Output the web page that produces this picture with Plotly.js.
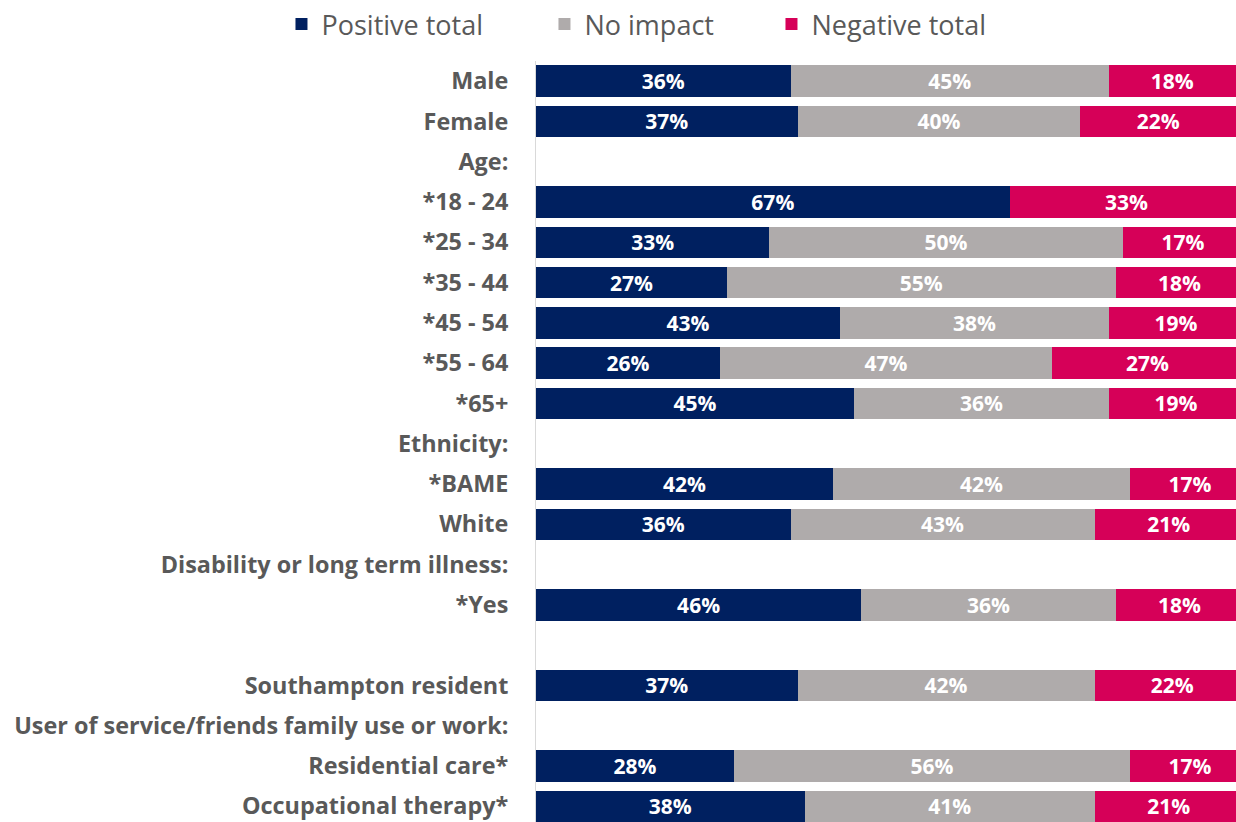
<!DOCTYPE html>
<html>
<head>
<meta charset="utf-8">
<script src="https://cdn.plot.ly/plotly-3.0.1.min.js"></script>
<style>html,body{margin:0;padding:0;background:#fff;}#chart{width:1236px;height:822px;}</style>
</head>
<body>
<div id="chart"></div>
<script>
var categories = ["Male","Female","Age:","*18 - 24","*25 - 34","*35 - 44","*45 - 54","*55 - 64","*65+","Ethnicity:","*BAME","White","Disability or long term illness:","*Yes"," ","Southampton resident","User of service/friends family use or work:","Residential care*","Occupational therapy*"];
var positiveTotal = [36,37,null,67,33,27,43,26,45,null,42,36,null,46,null,37,null,28,38];
var noImpact      = [45,40,null,null,50,55,38,47,36,null,42,43,null,36,null,42,null,56,41];
var negativeTotal = [18,22,null,33,17,18,19,27,19,null,17,21,null,18,null,22,null,17,21];
var seriesNames = ["Positive total","No impact","Negative total"];
var seriesColors = ["#002060","#AFABAB","#D60058"];

var FONT = "'Open Sans', sans-serif";
var legendIds = ["legend","legend2","legend3"];
var legendX = [-0.3636, 0.0121, 0.3364];

function lbl(arr){ return arr.map(function(v){ return v === null ? "" : v + "%"; }); }
var data = [positiveTotal, noImpact, negativeTotal].map(function(vals, i){
  return {
    type: "bar", orientation: "h",
    y: categories, x: vals,
    name: seriesNames[i],
    legend: legendIds[i],
    marker: {color: seriesColors[i]},
    text: lbl(vals),
    texttemplate: "%{text}",
    textposition: "inside",
    insidetextanchor: "middle",
    constraintext: "none",
    textfont: {family: FONT, size: 21, color: "#ffffff", weight: "bold"},
    hoverinfo: "skip"
  };
});

function legendCfg(x){
  return {
    orientation: "h",
    x: x, xanchor: "left",
    y: 1.0486, yanchor: "middle",
    font: {family: FONT, size: 27, color: "#595959"},
    itemwidth: 30,
    bgcolor: "rgba(0,0,0,0)"
  };
}

var layout = {
  width: 1236, height: 822,
  margin: {l: 536, r: 0, t: 61, b: 0, pad: 0},
  barmode: "stack",
  bargap: 0.22,
  paper_bgcolor: "#ffffff",
  plot_bgcolor: "#ffffff",
  showlegend: true,
  legend: legendCfg(legendX[0]),
  legend2: legendCfg(legendX[1]),
  legend3: legendCfg(legendX[2]),
  xaxis: {
    range: [0, 99], showgrid: false, zeroline: false,
    showticklabels: false, ticks: "", showline: false, fixedrange: true
  },
  yaxis: {
    type: "category",
    categoryorder: "array", categoryarray: categories,
    range: [18.39, -0.5],
    showgrid: false, zeroline: false,
    showline: true, linecolor: "#D9D9D9", linewidth: 1,
    ticks: "outside", ticklen: 22, tickcolor: "rgba(0,0,0,0)",
    tickfont: {family: FONT, size: 23.4, color: "#595959", weight: "bold"},
    automargin: false, fixedrange: true
  }
};

Plotly.newPlot("chart", data, layout, {displayModeBar: false, staticPlot: true});
</script>
</body>
</html>
